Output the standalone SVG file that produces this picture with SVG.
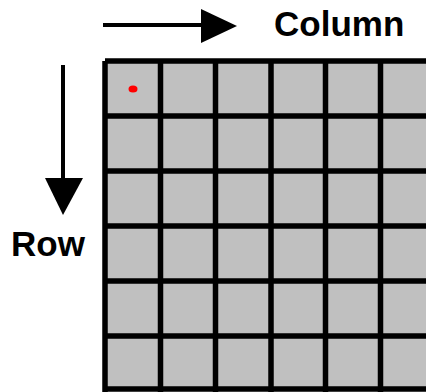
<svg xmlns="http://www.w3.org/2000/svg" width="426" height="392" viewBox="0 0 426 392">
<style>
.lbl{font-family:"Liberation Sans",Arial,sans-serif;font-weight:bold;font-size:35px;fill:#000}
.grid{stroke:#000;stroke-width:5.5;fill:none}
.arr{stroke:#000;stroke-width:4;fill:none}
</style>
<rect width="426" height="392" fill="#fff"/>
<g id="grid">
<rect x="105" y="61" width="330" height="328" fill="#c0c0c0"/>
<path class="grid" d="M105 61V392M160.5 61V392M215.5 61V392M271 61V392M325.5 61V392M380.5 61V392M105 61H426M105 116H426M105 171H426M105 226H426M105 281H426M105 336H426M105 389H426"/>
<ellipse cx="133" cy="89" rx="4.5" ry="3.5" fill="#ff0000"/>
</g>
<g id="connectors">
<path class="arr" d="M103 25H203"/>
<polygon points="201,9 237,26 201,43" fill="#000"/>
<path class="arr" d="M63 65V180"/>
<polygon points="45,178 83,178 63,215" fill="#000"/>
</g>
<g id="column-label"><text class="lbl" x="274" y="36">Column</text></g>
<g id="row-label"><text class="lbl" x="11" y="256">Row</text></g>
</svg>
